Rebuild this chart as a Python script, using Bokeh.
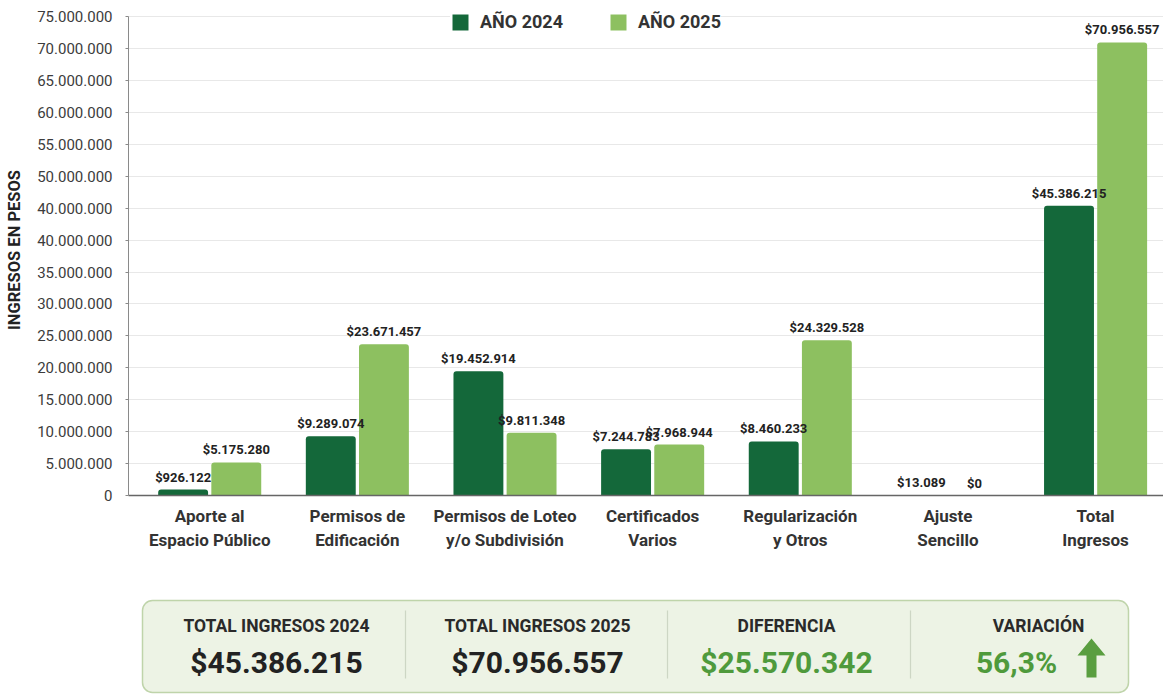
from bokeh.plotting import figure
from bokeh.models import ColumnDataSource, Range1d, FixedTicker, Legend, LegendItem
from bokeh.layouts import column
from bokeh.transform import dodge
from bokeh.embed import file_html
from bokeh.resources import INLINE
from bokeh.core.properties import value

# ---------------- data ----------------
categories = [
    "Aporte al\nEspacio Público",
    "Permisos de\nEdificación",
    "Permisos de Loteo\ny/o Subdivisión",
    "Certificados\nVarios",
    "Regularización\ny Otros",
    "Ajuste\nSencillo",
    "Total\nIngresos",
]
ingresos_2024 = [926122, 9289074, 19452914, 7244783, 8460233, 13089, 45386215]
ingresos_2025 = [5175280, 23671457, 9811348, 7968944, 24329528, 0, 70956557]
series_names = ["AÑO 2024", "AÑO 2025"]
y_ticks = [0, 5000000, 10000000, 15000000, 20000000, 25000000, 30000000, 35000000,
           40000000, 45000000, 50000000, 55000000, 60000000, 65000000, 70000000, 75000000]
y_tick_labels = ["0", "5.000.000", "10.000.000", "15.000.000", "20.000.000", "25.000.000",
                 "30.000.000", "35.000.000", "40.000.000", "40.000.000", "50.000.000",
                 "55.000.000", "60.000.000", "65.000.000", "70.000.000", "75.000.000"]
summary_titles = ["TOTAL INGRESOS 2024", "TOTAL INGRESOS 2025", "DIFERENCIA", "VARIACIÓN"]

# ---------------- derived ----------------
def money(v):
    return "$" + f"{v:,}".replace(",", ".")

total_2024 = ingresos_2024[-1]
total_2025 = ingresos_2025[-1]
diferencia = total_2025 - total_2024
variacion = diferencia / total_2024 * 100
summary_values = [money(total_2024), money(total_2025), money(diferencia),
                  f"{variacion:.1f}".replace(".", ",") + "%"]

DARK = "#14683a"
LIGHT = "#8dc060"
GREEN_TXT = "#4f9a3c"
FONT = "Roboto"
W = 1163
H1 = 590
H2 = 105
LEFT = 128

src = ColumnDataSource(dict(
    x=list(range(len(categories))),
    v24=ingresos_2024,
    v25=ingresos_2025,
    l24=[money(v) for v in ingresos_2024],
    l25=[money(v) for v in ingresos_2025],
))

p = figure(width=W, height=H1, output_backend="svg", toolbar_location=None,
           x_range=Range1d(-0.55, 6.46), y_range=Range1d(0, 76900000),
           min_border_left=LEFT, min_border_right=0, min_border_top=4, min_border_bottom=95,
           background_fill_color="white", border_fill_color="white")
p.outline_line_color = None

off = 0.18
bw = 0.338
r24 = p.vbar(x=dodge("x", -off, range=p.x_range), top="v24", width=bw, source=src,
             fill_color=DARK, line_color=None, border_radius=(3, 3, 0, 0))
r25 = p.vbar(x=dodge("x", off, range=p.x_range), top="v25", width=bw, source=src,
             fill_color=LIGHT, line_color=None, border_radius=(3, 3, 0, 0))

for col, ycol, d in (("l24", "v24", -off), ("l25", "v25", off)):
    p.text(x=dodge("x", d, range=p.x_range), y=ycol, text=col, source=src,
           text_align="center", text_baseline="bottom", y_offset=-5,
           text_font=value(FONT), text_font_style="bold", text_font_size="13px",
           text_color="#222222")

# axes
p.xgrid.visible = False
p.ygrid.grid_line_color = "#e8e8e8"
p.ygrid.grid_line_width = 1

p.yaxis.ticker = FixedTicker(ticks=y_ticks)
p.yaxis.bounds = (y_ticks[0], y_ticks[-1])
p.yaxis.major_label_overrides = {t: l for t, l in zip(y_ticks, y_tick_labels)}
p.yaxis.axis_label = "INGRESOS EN PESOS"
p.yaxis.axis_label_text_font = FONT
p.yaxis.axis_label_text_font_style = "bold"
p.yaxis.axis_label_text_font_size = "16.5px"
p.yaxis.axis_label_text_color = "#222222"
p.yaxis.axis_label_standoff = 10
p.yaxis.major_label_text_font = FONT
p.yaxis.major_label_text_font_size = "15px"
p.yaxis.major_label_text_color = "#3c3c3c"
p.yaxis.major_label_standoff = 13
p.yaxis.axis_line_color = "#8a8a8a"
p.yaxis.major_tick_line_color = "#8a8a8a"
p.yaxis.major_tick_out = 3
p.yaxis.major_tick_in = 0
p.yaxis.minor_tick_line_color = None

p.xaxis.ticker = FixedTicker(ticks=list(range(len(categories))))
p.xaxis.major_label_overrides = {i: c for i, c in enumerate(categories)}
p.xaxis.major_label_text_font = FONT
p.xaxis.major_label_text_font_style = "bold"
p.xaxis.major_label_text_font_size = "17px"
p.xaxis.major_label_text_color = "#333333"
p.xaxis.major_label_standoff = 4
p.xaxis.axis_line_color = "#666666"
p.xaxis.axis_line_width = 1.5
p.xaxis.major_tick_line_color = None
p.xaxis.minor_tick_line_color = None

legend = Legend(items=[LegendItem(label=series_names[0], renderers=[r24]),
                       LegendItem(label=series_names[1], renderers=[r25])],
                location=(322, 463), orientation="horizontal",
                border_line_color=None, background_fill_color="white", background_fill_alpha=1,
                padding=3, spacing=45, margin=0, glyph_width=20, glyph_height=20,
                label_standoff=10, label_text_font=FONT, label_text_font_style="bold",
                label_text_font_size="18px", label_text_color="#333333")
p.add_layout(legend)

# ---------------- summary panel (x in page pixels) ----------------
s = figure(width=W, height=H2, output_backend="svg", toolbar_location=None,
           x_range=Range1d(LEFT, W), y_range=Range1d(0, H2), x_axis_type=None, y_axis_type=None,
           min_border_left=LEFT, min_border_right=0, min_border_top=0, min_border_bottom=0,
           background_fill_color="white", border_fill_color="white")
s.outline_line_color = None
s.grid.visible = False

s.quad(left=142, right=1128, bottom=3, top=95, border_radius=10,
       fill_color="#edf3e5", line_color="#bfd4aa", line_width=1.5)
s.segment(x0=[405, 667, 910], y0=[17, 17, 17], x1=[405, 667, 910], y1=[85, 85, 85],
          line_color="#cdd6c4", line_width=1.2)

s.text(x=[276, 537, 786, 1038], y=[70] * 4, text=summary_titles,
       text_align="center", text_baseline="middle", text_font=value(FONT),
       text_font_style="bold", text_font_size="17.5px", text_color="#2a2a2a")
s.text(x=[276, 537, 786, 1016], y=[33] * 4, text=summary_values,
       text_align="center", text_baseline="middle", text_font=value(FONT),
       text_font_style="bold", text_font_size="30px",
       text_color=["#222222", "#222222", GREEN_TXT, GREEN_TXT])
s.patch(x=[1086, 1096, 1096, 1105, 1091, 1077, 1086], y=[18, 18, 40, 40, 57, 40, 40],
        fill_color="#5a9e40", line_color=None)

layout = column(p, s, spacing=0)
open("out.html", "w").write(file_html(layout, INLINE))
